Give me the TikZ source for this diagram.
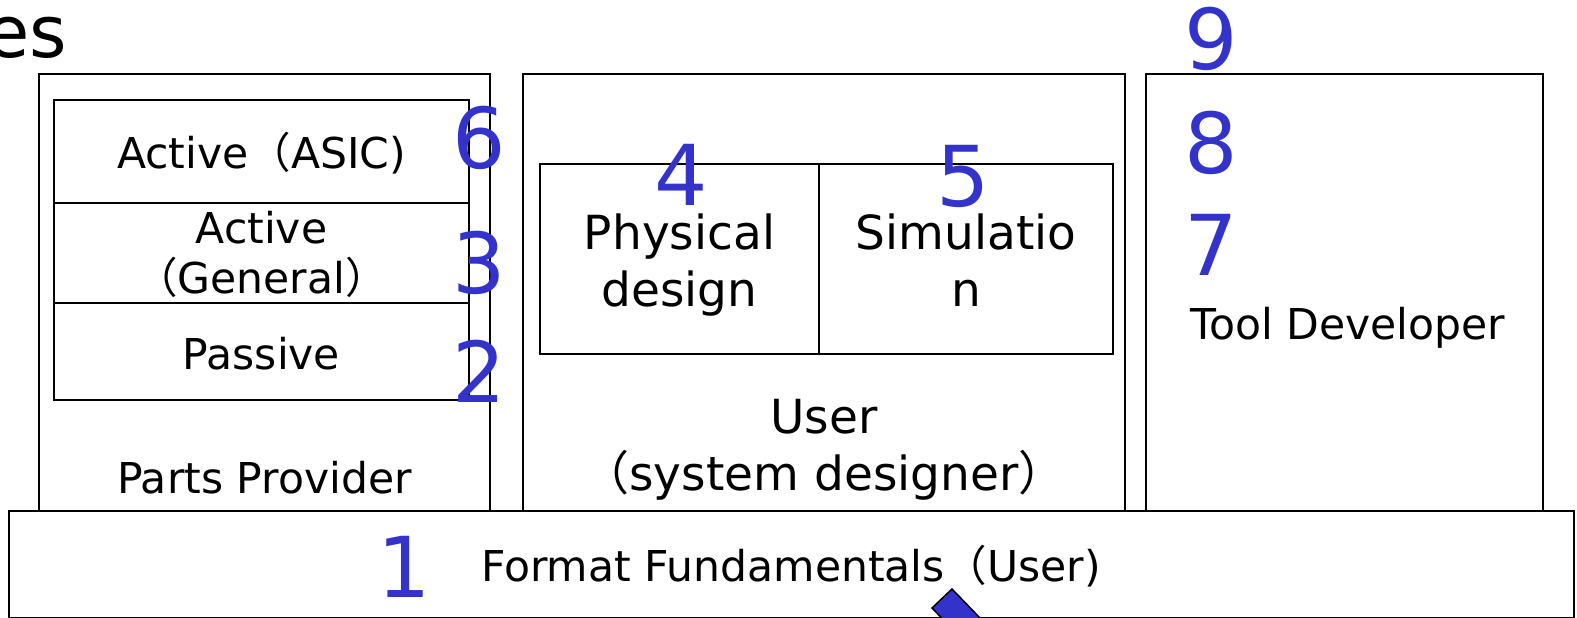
\documentclass[tikz,border=0pt]{standalone}
\usepackage{fontspec}
\setmainfont{DejaVu Sans}
\newfontfamily\cjk{Noto Sans CJK JP}
\usetikzlibrary{fit}
\definecolor{numblue}{RGB}{51,51,204}
\newcommand{\fwopen}{{\cjk （}}
\newcommand{\fwclose}{{\cjk ）}}

\begin{document}
\begin{tikzpicture}[x=1pt, y=-1pt,
    frame/.style={draw, line width=2.2pt, inner sep=0pt, outer sep=0pt},
    lbl/.style={anchor=base, align=center, font=\fontsize{42.5}{50}\selectfont},
    biglbl/.style={anchor=base, align=center, font=\fontsize{47}{57}\selectfont},
    num/.style={anchor=base, text=numblue, font=\fontsize{84}{84}\selectfont}]
    \useasboundingbox (0,0) rectangle (1577,618);

    % title remainder, cut at the left edge
    \node[anchor=base east, font=\fontsize{72}{72}\selectfont] (title) at (71,58) {es};

    % three columns
    \node[frame, fit={(39,74) (490,511)}] (parts) {};
    \node[frame, fit={(523,74) (1125,511)}] (user) {};
    \node[frame, fit={(1146,74) (1543,511)}] (tool) {};

    % base layer
    \node[frame, fit={(9,511) (1574,618.5)}] (base) {};

    % parts stack
    \node[frame, fit={(54,100) (469,203)}] (asic) {};
    \node[frame, fit={(54,203) (469,303)}] (general) {};
    \node[frame, fit={(54,303) (469,400)}] (passive) {};

    % user tasks
    \node[frame, fit={(540,164) (819,354)}] (phys) {};
    \node[frame, fit={(819,164) (1113,354)}] (sim) {};

    % labels (base of a two-line node sits on its last line)
    \node[lbl] (asictxt) at (261.5,168) {Active\fwopen ASIC)};
    \node[lbl] (gentxt) at (261.5,293) {Active\\\fwopen General\fwclose};
    \node[lbl] (pastxt) at (261.5,369) {Passive};
    \node[lbl] (partstxt) at (264.5,493) {Parts Provider};
    \node[biglbl] (phystxt) at (679.5,306) {Physical\\design};
    \node[biglbl] (simtxt) at (966,306) {Simulatio\\n};
    \node[biglbl] (usertxt) at (824,490) {User\\\fwopen system designer\fwclose};
    \node[lbl, anchor=base west] (tooltxt) at (1187,339) {Tool Developer};
    \node[lbl] (basetxt) at (791,581) {Format Fundamentals\fwopen User)};

    % arrow tail poking up from below
    \filldraw[fill=numblue, draw=black, line width=1.5pt]
        (952,589) -- (932,608) -- (960,637) -- (980,618) -- cycle;

    % numbering
    \node[num] (n1) at (404,597) {1};
    \node[num] (n2) at (479,402) {2};
    \node[num] (n3) at (479,293) {3};
    \node[num] (n4) at (681,205) {4};
    \node[num] (n5) at (963,206) {5};
    \node[num] (n6) at (479,168) {6};
    \node[num] (n7) at (1211,275) {7};
    \node[num] (n8) at (1211,173) {8};
    \node[num] (n9) at (1211,70) {9};
\end{tikzpicture}
\end{document}
